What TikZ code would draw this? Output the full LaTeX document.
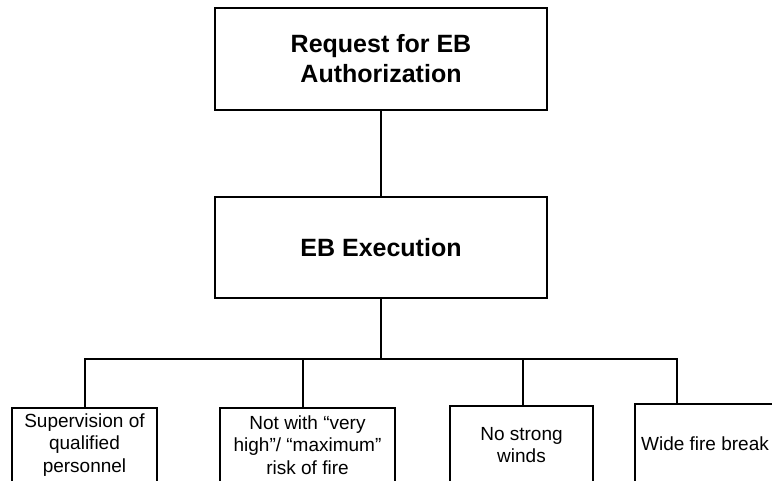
\documentclass[tikz,border=0pt]{standalone}
\usepackage{fontspec}
\setmainfont{Liberation Sans}
\begin{document}
\begin{tikzpicture}[x=1pt,y=-1pt,
  box/.style={draw=black,line width=1.8pt,fill=white,inner sep=0pt,align=center},
  topbox/.style={box,minimum width=332pt,font=\bfseries\fontsize{25}{30}\selectfont},
  leafbox/.style={box,font=\fontsize{19}{22.5}\selectfont},
  link/.style={draw=black,line width=1.8pt}]
\useasboundingbox (0,0) rectangle (772,481);
\clip (0,0) rectangle (772,481);
\node[leafbox,minimum width=146pt,minimum height=82pt,anchor=north west] (b4) at (634,403) {};
\node[font=\fontsize{19}{22.5}\selectfont,inner sep=0pt] (b4t) at (705,444) {Wide fire break};
\node[topbox,minimum height=102pt] (req) at (381,59) {Request for EB\\Authorization};
\node[topbox,minimum height=101pt] (exe) at (381,247.5) {EB Execution};
\node[leafbox,minimum width=145pt,minimum height=74pt] (b1) at (84.5,445) {Supervision of\\qualified\\personnel};
\node[leafbox,minimum width=175pt,minimum height=74pt] (b2) at (307.5,445) {Not with “very\\high”/ “maximum”\\risk of fire};
\node[leafbox,minimum width=143pt,minimum height=78pt] (b3) at (521.5,445) {No strong\\winds};
\coordinate (j1) at (85,359);
\coordinate (j2) at (303,359);
\coordinate (j3) at (523,359);
\coordinate (j4) at (677,359);
\draw[link] (req) -- (exe);
\draw[link] (exe.south) -- (exe.south |- j1);
\draw[link] (j1 |- b1.north) -- (j1) -- (j4) -- (j4 |- b4.north);
\draw[link] (j2) -- (j2 |- b2.north);
\draw[link] (j3) -- (j3 |- b3.north);
\end{tikzpicture}
\end{document}
